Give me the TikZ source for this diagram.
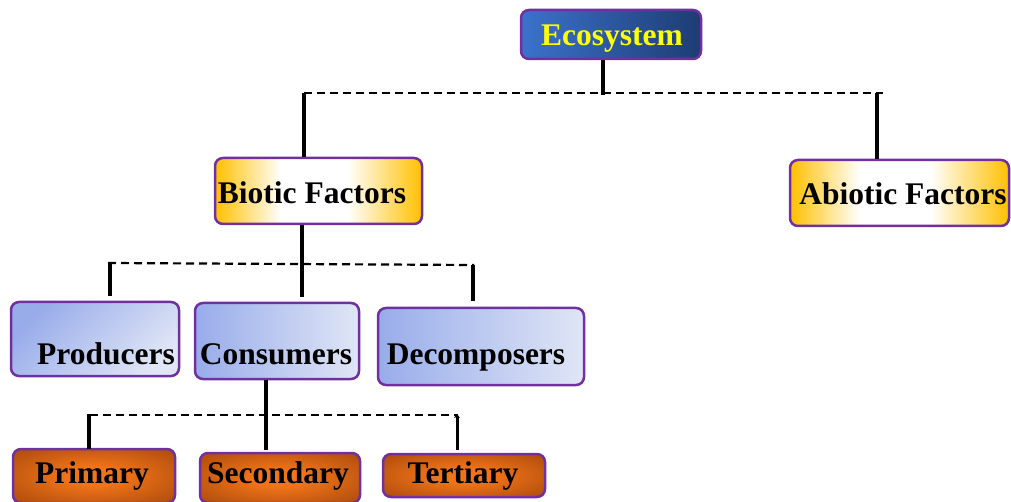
\documentclass[tikz,border=0pt]{standalone}
\usepackage{fontspec}
\setmainfont{Liberation Serif}
\usetikzlibrary{arrows.meta}
\definecolor{frame}{HTML}{7030A0}
\definecolor{ecoL}{HTML}{3B72CC}
\definecolor{ecoR}{HTML}{1E3C72}
\definecolor{gold}{HTML}{FFC000}
\definecolor{bluL}{HTML}{98ACEA}
\definecolor{bluR}{HTML}{E0E6F6}
\definecolor{orC}{HTML}{F27418}
\definecolor{orE}{HTML}{B4500E}
\definecolor{ecoText}{HTML}{FFFF00}
\pgfdeclarehorizontalshading{goldglow}{100bp}{color(0bp)=(gold); color(25bp)=(gold); color(41bp)=(white); color(57bp)=(white); color(75bp)=(gold); color(100bp)=(gold)}
\pgfdeclareradialshading{orangeglow}{\pgfpoint{0bp}{0bp}}{color(0bp)=(orC); color(8bp)=(orC); color(32bp)=(orE); color(100bp)=(orE)}
\tikzset{
  box/.style={draw=frame, line width=2.5pt, rounded corners=8pt, inner sep=0pt},
  ecobox/.style={box, left color=ecoL, right color=ecoR},
  goldbox/.style={box, shading=goldglow},
  bluebox/.style={box, left color=bluL, right color=bluR},
  orbox/.style={box, shading=orangeglow},
  lbl/.style={font=\fontsize{31.5}{36}\selectfont\bfseries, anchor=base, inner sep=0pt},
  stem/.style={line width=3.5pt},
  dashline/.style={line width=2.2pt, dash pattern=on 8pt off 5pt},
}
\begin{document}
\begin{tikzpicture}[x=1pt,y=-1pt]
\useasboundingbox (0,0) rectangle (1011,502);
% boxes
\node[ecobox, minimum width=180pt, minimum height=49pt] (eco) at (611,34.5) {};
\node[goldbox, minimum width=207pt, minimum height=66pt] (bio) at (318.5,191) {};
\node[goldbox, minimum width=219pt, minimum height=66pt] (abio) at (899.5,193) {};
\node[bluebox, shading angle=45, minimum width=168pt, minimum height=74pt] (prod) at (95,339) {};
\node[bluebox, minimum width=164pt, minimum height=76pt] (cons) at (277,341) {};
\node[bluebox, minimum width=206pt, minimum height=77pt] (deco) at (481,346.5) {};
\node[orbox, minimum width=162pt, minimum height=54pt] (prim) at (94,476) {};
\node[orbox, minimum width=160pt, minimum height=50pt] (seco) at (280,478) {};
\node[orbox, minimum width=162pt, minimum height=43pt] (tert) at (464,475.5) {};
% labels
\node[lbl, text=ecoText] (ecoT) at (612,46) {Ecosystem};
\node[lbl] (bioT) at (312,204) {Biotic Factors};
\node[lbl] (abioT) at (903,205) {Abiotic Factors};
\node[lbl] (prodT) at (106,364) {Producers};
\node[lbl] (consT) at (276,364) {Consumers};
\node[lbl] (decoT) at (476,364) {Decomposers};
\node[lbl] (primT) at (92,483) {Primary};
\node[lbl] (secoT) at (278,483) {Secondary};
\node[lbl] (tertT) at (463,483) {Tertiary};
% top level connectors
\coordinate (tbL) at (304,93);
\coordinate (tbR) at (883,93);
\coordinate (tbE) at (603,95);
\coordinate (tbA) at (877,93);
\draw[dashline] (tbL) -- (tbR);
\draw[stem] (tbE |- eco.south) -- (tbE);
\draw[stem] (tbL) -- (tbL |- bio.north);
\draw[stem] (tbA) -- (tbA |- abio.north);
% biotic level
\coordinate (mbL) at (108,263);
\coordinate (mbR) at (474,265);
\coordinate (mbS) at (302,297);
\coordinate (mbP) at (110,263);
\coordinate (mbPe) at (110,296);
\coordinate (mbD) at (473,265);
\coordinate (mbDe) at (473,301);
\draw[dashline] (mbL) -- (mbR);
\draw[stem] (mbS |- bio.south) -- (mbS);
\draw[stem] (mbP) -- (mbPe);
\draw[stem] (mbD) -- (mbDe);
% consumers level
\coordinate (lbL) at (90,415);
\coordinate (lbR) at (458,415);
\coordinate (lbS) at (266,450);
\coordinate (lbP) at (89,414);
\coordinate (lbPe) at (89,449);
\coordinate (lbT) at (457,414);
\coordinate (lbTe) at (457,450);
\draw[dashline] (lbL) -- (lbR);
\draw[stem] (lbS |- cons.south) -- (lbS);
\draw[stem] (lbP) -- (lbPe);
\draw[line width=3pt, -{Stealth[length=4pt,width=6pt]}] (lbTe) -- (lbT);
\end{tikzpicture}
\end{document}
